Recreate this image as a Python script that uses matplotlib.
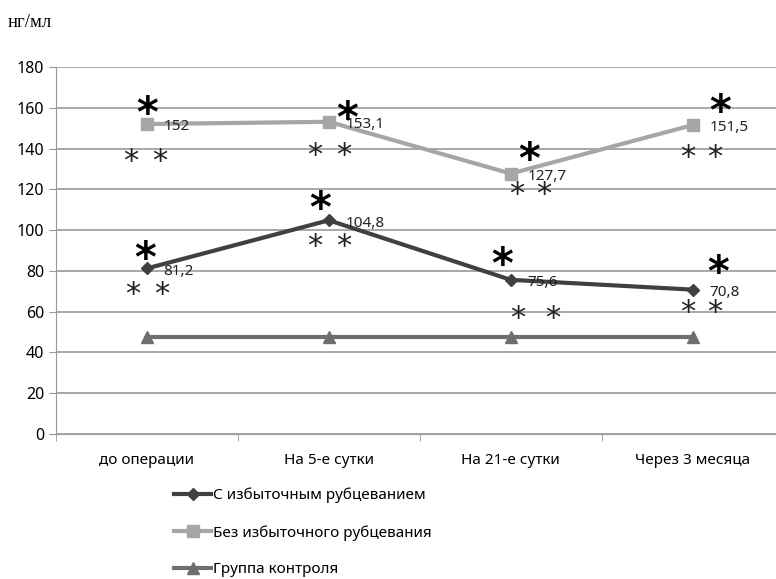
import numpy as np
import matplotlib.pyplot as plt

# Категории и значения (нг/мл)
categories = ['до операции', 'На 5-е сутки', 'На 21-е сутки', 'Через 3 месяца']
s_scar = [81.2, 104.8, 75.6, 70.8]        # С избыточным рубцеванием
s_noscar = [152, 153.1, 127.7, 151.5]     # Без избыточного рубцевания
s_control = [47.5, 47.5, 47.5, 47.5]      # Группа контроля
labels_scar = ['81,2', '104,8', '75,6', '70,8']
labels_noscar = ['152', '153,1', '127,7', '151,5']

# Звездочки: (x, y) в координатах данных
big_stars = [(0, 156.5), (1.1, 154), (2.1, 134), (3.15, 157.5),
             (-0.01, 85.5), (0.95, 110), (1.95, 82.5), (3.14, 78.5)]
small_stars = [(-0.09, 133.5), (0.07, 133.5), (0.92, 136.5), (1.08, 136.5),
               (2.03, 117.5), (2.18, 117.5), (2.97, 135.5), (3.12, 135.5),
               (-0.08, 68.5), (0.08, 68.5), (0.92, 92), (1.08, 92),
               (2.04, 56.5), (2.23, 56.5), (2.97, 59.5), (3.12, 59.5)]

plt.rcParams['font.family'] = ['Noto Sans', 'DejaVu Sans']

fig = plt.figure(figsize=(7.76, 5.79), dpi=100)
ax = fig.add_axes([0.072, 0.2504, 0.938, 0.634])
x = np.arange(len(categories))

ax.plot(x, s_scar, color='#404040', lw=3, marker='D', ms=6, label='С избыточным рубцеванием', zorder=3)
ax.plot(x, s_noscar, color='#a6a6a6', lw=3, marker='s', ms=8, label='Без избыточного рубцевания', zorder=3)
ax.plot(x, s_control, color='#6e6e6e', lw=3, marker='^', ms=8, label='Группа контроля', zorder=3)

for xi, v, t in zip(x, s_scar, labels_scar):
    ax.annotate(t, (xi, v), xytext=(12, -2), textcoords='offset points', va='center', fontsize=11, color='#222222')
for xi, v, t in zip(x, s_noscar, labels_noscar):
    ax.annotate(t, (xi, v), xytext=(12, -2), textcoords='offset points', va='center', fontsize=11, color='#222222')

for sx, sy in big_stars:
    ax.text(sx, sy, '*', fontsize=30, fontweight='bold', ha='center', va='center', family='DejaVu Sans', color='black')
for sx, sy in small_stars:
    ax.text(sx, sy, '*', fontsize=22, ha='center', va='center', family='DejaVu Sans', color='#222222')

ax.set_xlim(-0.5, 3.5)
ax.set_ylim(0, 180)
ax.set_yticks(np.arange(0, 181, 20))
ax.set_xticks(x)
ax.set_xticklabels(categories, fontsize=11)
ax.tick_params(axis='x', length=0, pad=14)
ax.set_xticks(np.arange(-0.5, 3.6, 1), minor=True)
ax.tick_params(axis='x', which='minor', length=5, color='#999999')
ax.tick_params(axis='y', labelsize=11.5, length=5, color='#999999')
ax.grid(axis='y', color='#9a9a9a', lw=1.2)
ax.set_axisbelow(True)
for side in ['top', 'right']:
    ax.spines[side].set_visible(False)
for side in ['left', 'bottom']:
    ax.spines[side].set_color('#999999')

fig.text(0.01, 0.962, 'нг/мл', fontsize=13.5, family='Liberation Serif', va='center')

fig.legend(loc='upper left', bbox_to_anchor=(0.215, 0.171), frameon=False, fontsize=11,
           labelspacing=1.42, handlelength=2.4, handletextpad=0.1, borderpad=0)

fig.savefig('out.png', dpi=100)
